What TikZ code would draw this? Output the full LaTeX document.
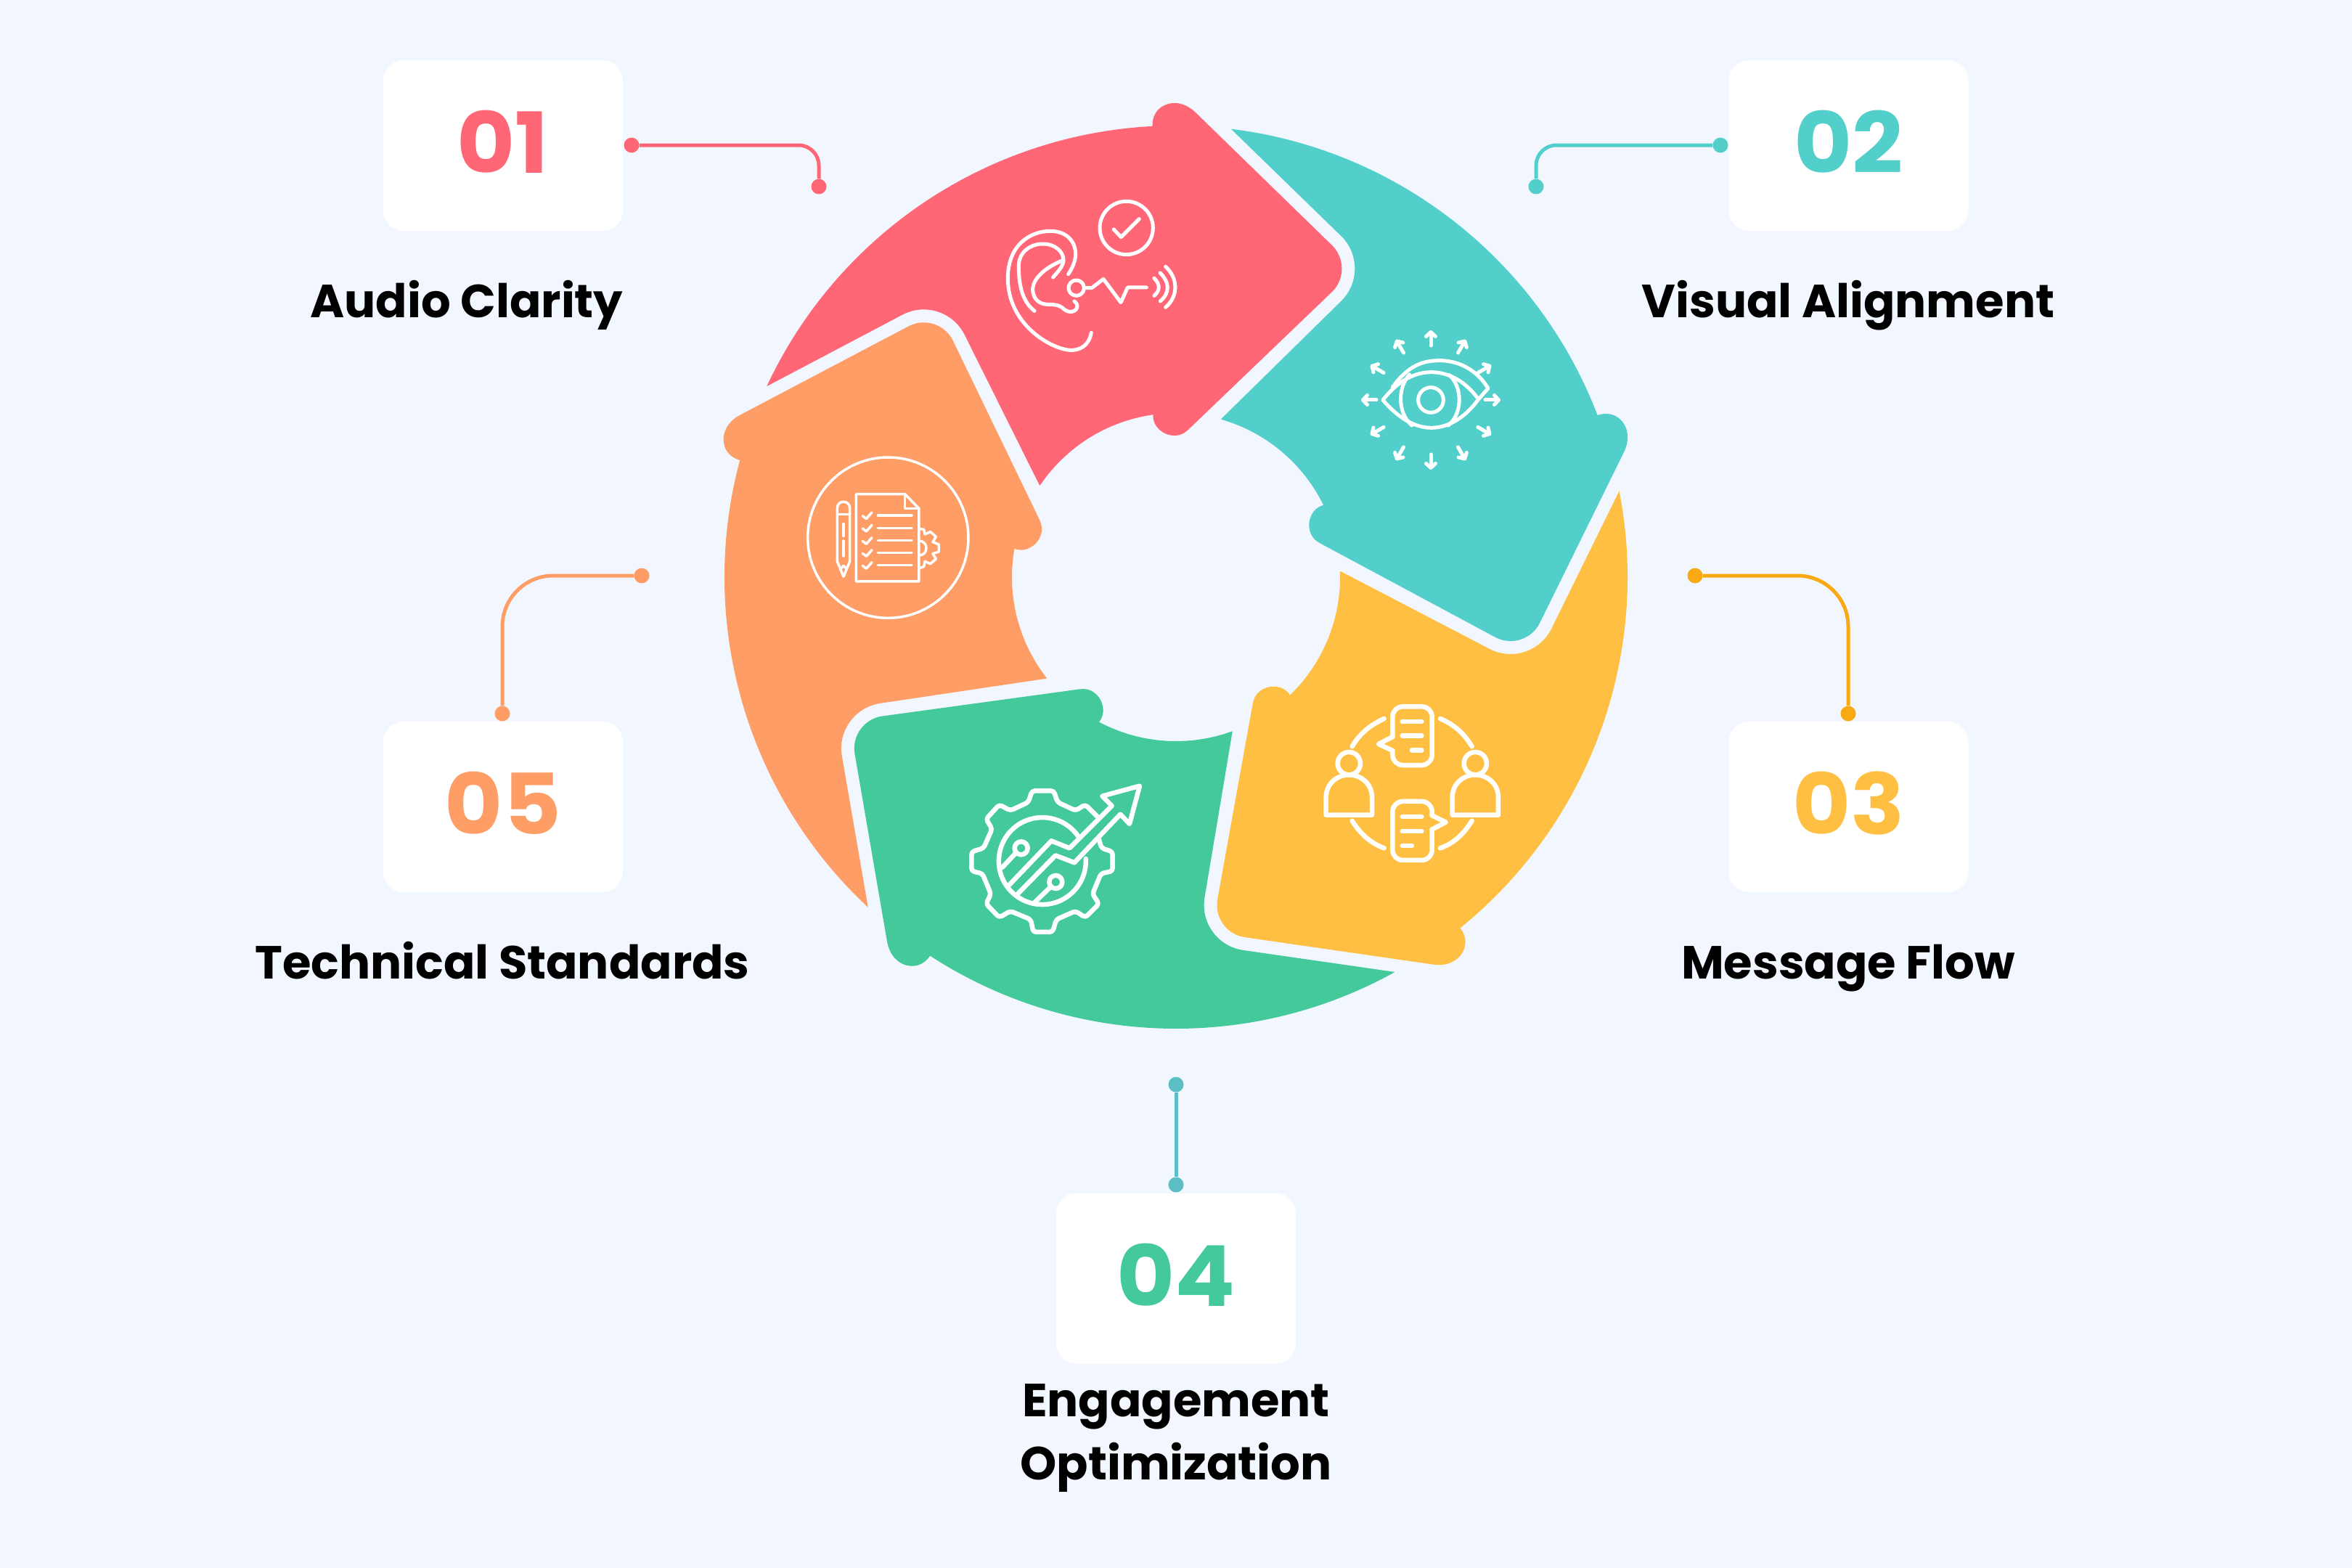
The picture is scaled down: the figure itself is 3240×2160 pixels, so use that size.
\documentclass[tikz,border=0pt]{standalone}
\usepackage{fontspec}
\setmainfont{Poppins}
\newfontfamily\numfont[FakeStretch=1.06]{Poppins}
\usetikzlibrary{arrows.meta}
\definecolor{pagebg}{HTML}{F2F7FF}
\definecolor{pinkc}{HTML}{FF6777}
\definecolor{tealc}{HTML}{52CFCA}
\definecolor{yellowc}{HTML}{FFBF42}
\definecolor{greenc}{HTML}{43C99A}
\definecolor{orangec}{HTML}{FF9D66}
\definecolor{amberline}{HTML}{F9A913}
\definecolor{blueline}{HTML}{5BBFC4}
\tikzset{
  card/.style={fill=white,rounded corners=28pt,minimum width=330pt,minimum height=235pt,inner sep=0pt,text height=83pt,text depth=7pt,font=\fontsize{116}{116}\numfont\bfseries},
  caption/.style={font=\fontsize{64}{87}\selectfont\bfseries,text=black,align=center,inner sep=0pt,anchor=base},
  dot/.style={circle,inner sep=0pt,minimum size=21pt},
  wire/.style={line width=5pt},
  icon/.style={draw=white,line width=5pt,line cap=round,line join=round},
  thickicon/.style={draw=white,line width=6.5pt,line cap=round,line join=round},
  thinicon/.style={draw=white,line width=3.5pt,line cap=round,line join=round},
  % icons are typed in crop coordinates, three units to a pixel, y going down
  iconarea/.style={x=0.3333pt,y=-0.3333pt}
}
\newcommand{\segpath}{(146:227) -- (-291.5,334.3) .. controls (-307.3,365.3) and (-345.1,377.6) .. (-376.1,361.8)
  -- (155:622) arc[start angle=155,end angle=93,radius=622]
  .. controls (-33,642) and (-18,653) .. (-2,653) .. controls (10,653) and (20,647) .. (28,639)
  -- (215.2,456.8) .. controls (232.8,439.2) and (232.8,410.8) .. (215.2,393.2) -- (22,208)
  .. controls (14,200) and (8,195) .. (-2,195) .. controls (-18,195) and (-33,208) .. (98:226)
  arc[start angle=98,end angle=146,radius=226] -- cycle}
\begin{document}
\begin{tikzpicture}[x=1pt,y=1pt]
\fill[pagebg] (0,0) rectangle (3240,-2160);
% ring
\fill[pinkc,shift={(1620,-795)}] \segpath;
\fill[tealc,shift={(1620,-795)},rotate=-72] \segpath;
\fill[yellowc,shift={(1620,-795)},rotate=-144] \segpath;
\fill[greenc,shift={(1620,-795)},rotate=-216] \segpath;
\fill[orangec,shift={(1620,-795)},rotate=-288] \segpath;
% cards
\node[card,text=pinkc] (cardone) at (693,-200.5) {01};
\node[card,text=tealc] (cardtwo) at (2546.5,-200.5) {02};
\node[card,text=yellowc] (cardthree) at (2546.5,-1111.5) {03};
\node[card,text=greenc] (cardfour) at (1620,-1761) {04};
\node[card,text=orangec] (cardfive) at (693,-1111.5) {05};
\node[caption] (capone) at (643,-437) {Audio Clarity};
\node[caption] (captwo) at (2546,-437) {Visual Alignment};
\node[caption] (capthree) at (2546,-1348) {Message Flow};
\node[caption] (capfour) at (1620,-2038) {Engagement\\Optimization};
\node[caption] (capfive) at (692,-1348) {Technical Standards};
% connectors
\node[dot,fill=pinkc] (aone) at (870,-200) {};
\node[dot,fill=pinkc] (bone) at (1128,-257) {};
\draw[wire,pinkc,rounded corners=28pt] (aone) -| (bone);
\node[dot,fill=tealc] (atwo) at (2370,-200) {};
\node[dot,fill=tealc] (btwo) at (2116,-257) {};
\draw[wire,tealc,rounded corners=28pt] (atwo) -| (btwo);
\node[dot,fill=amberline] (athree) at (2335,-793) {};
\node[dot,fill=amberline] (bthree) at (2546,-983) {};
\draw[wire,amberline,rounded corners=70pt] (athree) -| (bthree);
\node[dot,fill=blueline] (afour) at (1620,-1494) {};
\node[dot,fill=blueline] (bfour) at (1620,-1632) {};
\draw[wire,blueline] (afour) -- (bfour);
\node[dot,fill=orangec] (afive) at (884,-793) {};
\node[dot,fill=orangec] (bfive) at (692,-983) {};
\draw[wire,orangec,rounded corners=70pt] (afive) -| (bfive);
% ear
\begin{scope}[iconarea,shift={(1340pt,-250pt)}]
\draw[icon] (490,625) .. controls (480,680) and (440,700) .. (400,697) .. controls (320,690) and (145,590) .. (145,400)
  .. controls (145,260) and (240,205) .. (320,205) .. controls (390,205) and (425,250) .. (425,300) .. controls (425,330) and (410,360) .. (395,383);
\draw[icon] (255,535) .. controls (210,500) and (190,440) .. (190,350) .. controls (190,290) and (240,258) .. (290,258)
  .. controls (340,258) and (375,290) .. (375,325) .. controls (375,350) and (350,375) .. (332,396);
\draw[icon] (375,325) .. controls (310,350) and (250,395) .. (248,445) .. controls (248,480) and (270,508) .. (310,508)
  .. controls (350,508) and (365,515) .. (380,530) .. controls (400,545) and (430,540) .. (432,515) .. controls (432,508) and (428,500) .. (420,495);
\draw[icon] (428,440) circle[radius=32];
\draw[icon] (460,440) -- (492,440) -- (540,403) -- (612,500) -- (640,438) -- (718,438);
\draw[icon] (750,400) .. controls (775,425) and (775,450) .. (750,472);
\draw[icon] (775,378) .. controls (815,420) and (815,460) .. (775,495);
\draw[icon] (797,352) .. controls (850,400) and (850,475) .. (797,520);
\draw[icon] (635,192) circle[radius=110];
\draw[icon] (583,198) -- (613,230) -- (688,155);
\end{scope}
% eye
\begin{scope}[iconarea,shift={(1850pt,-430pt)}]
\draw[icon] (165,363) .. controls (230,280) and (300,248) .. (365,248) .. controls (440,248) and (510,290) .. (560,360)
  .. controls (510,430) and (440,478) .. (365,478) .. controls (300,478) and (230,440) .. (165,363);
\draw[icon] (205,310) .. controls (270,220) and (330,200) .. (400,200) .. controls (480,200) and (555,240) .. (600,315) -- (560,360);
\draw[icon] (275,258) .. controls (225,310) and (225,420) .. (285,468);
\draw[icon] (440,260) .. controls (495,310) and (495,420) .. (435,468);
\draw[icon] (363,363) circle[radius=52];
\foreach \ang in {0,30,...,330}
  \draw[icon,-{Straight Barb[length=6pt,width=13pt,round]}] (363,363) ++(\ang:225) -- ++(\ang:63);
\end{scope}
% people and bubbles
\begin{scope}[iconarea,shift={(1800pt,-950pt)}]
\draw[thickicon,rounded corners=14pt] (355,195) -- (355,70) -- (518,70) -- (518,312) -- (355,312) -- (355,252);
\draw[thickicon] (355,195) -- (297,225) -- (355,252);
\draw[thickicon] (395,132) -- (475,132);
\draw[thickicon] (395,190) -- (475,190);
\draw[thickicon] (435,250) -- (475,250);
\draw[thickicon,rounded corners=14pt] (518,520) -- (518,462) -- (355,462) -- (355,705) -- (518,705) -- (518,578);
\draw[thickicon] (518,520) -- (575,548) -- (518,578);
\draw[thickicon] (395,525) -- (475,525);
\draw[thickicon] (395,585) -- (475,585);
\draw[thickicon] (395,645) -- (435,645);
\draw[thickicon] (175,305) circle[radius=47];
\draw[thickicon] (80,518) -- (80,445) .. controls (80,385) and (130,352) .. (175,352) .. controls (220,352) and (270,385) .. (270,445) -- (270,518) -- cycle;
\draw[thickicon] (697,305) circle[radius=47];
\draw[thickicon] (602,518) -- (602,445) .. controls (602,385) and (652,352) .. (697,352) .. controls (742,352) and (792,385) .. (792,445) -- (792,518) -- cycle;
\draw[thickicon] (188,235) .. controls (220,180) and (265,145) .. (320,120);
\draw[thickicon] (552,120) .. controls (610,145) and (650,180) .. (683,235);
\draw[thickicon] (188,542) .. controls (220,595) and (265,635) .. (320,655);
\draw[thickicon] (552,655) .. controls (610,635) and (650,595) .. (683,542);
\end{scope}
% gear with arrow
\begin{scope}[iconarea,shift={(1310pt,-1060pt)}]
\draw[thickicon,rounded corners=4pt] (605,195) -- (555,145) -- (515,170) -- (440,135) -- (425,88) -- (335,88) -- (320,135) -- (245,170) -- (200,145) -- (145,205)
  -- (170,245) -- (135,325) -- (85,340) -- (85,420) -- (130,430) -- (165,515) -- (145,555) -- (200,612) -- (245,585) -- (330,620) -- (340,672)
  -- (420,672) -- (435,620) -- (515,585) -- (555,612) -- (612,555) -- (585,515) -- (620,430) -- (668,420) -- (668,340) -- (622,325) -- (612,290);
\draw[thickicon] (240,478) -- (415,295) -- (490,325) -- (665,150) -- (625,110) -- (780,68) -- (738,225) -- (700,185) -- (510,385) -- (432,355) -- (275,515);
\draw[thickicon] (525,275) arc[start angle=-35,end angle=-363,radius=180];
\draw[thickicon] (290,325) circle[radius=27];
\draw[thickicon] (268,345) -- (212,405);
\draw[thickicon] (433,465) circle[radius=27];
\draw[thickicon] (412,485) -- (345,550);
\end{scope}
% checklist
\begin{scope}[iconarea,shift={(1090pt,-610pt)}]
\draw[thinicon] (400,392) circle[radius=332];
\draw[thinicon] (268,212) -- (470,212) -- (528,272) -- (528,573) -- (268,573) -- cycle;
\draw[thinicon] (470,212) -- (470,272) -- (528,272);
\foreach \yy in {300,352,404,455,506} {
  \draw[thinicon] (295,\yy+2) -- (310,\yy+14) -- (333,\yy-12);
  \draw[thinicon] (358,\yy) -- (498,\yy);
}
\draw[thinicon] (190,490) -- (190,270) .. controls (190,235) and (242,235) .. (242,270) -- (242,490) -- (216,553) -- cycle;
\draw[thinicon] (190,295) -- (242,295);
\draw[thinicon] (216,335) -- (216,385);
\draw[thinicon] (216,405) -- (216,468);
\draw[thinicon] (203,522) -- (216,508) -- (230,522);
\draw[thinicon] (528,355) -- (548,358) -- (552,378) -- (575,368) -- (598,388) -- (585,410) -- (610,420) -- (610,450) -- (585,458) -- (598,480) -- (575,500) -- (552,490) -- (548,512) -- (528,518);
\draw[thinicon] (528,405) .. controls (568,405) and (568,465) .. (528,465);
\end{scope}
\end{tikzpicture}
\end{document}
